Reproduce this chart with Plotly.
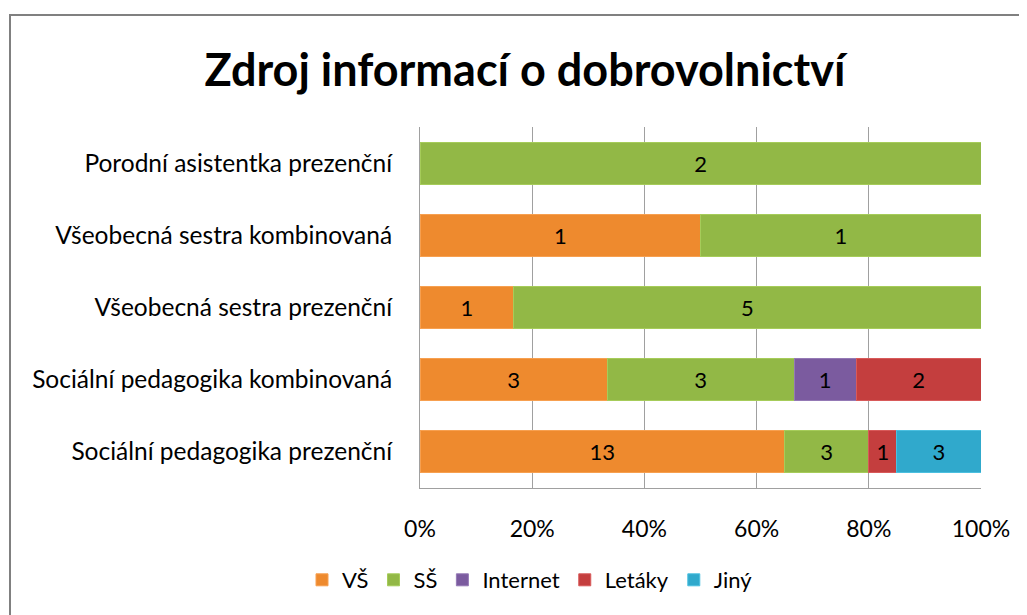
import plotly.graph_objects as go

categories = [
    "Sociální pedagogika prezenční",
    "Sociální pedagogika kombinovaná",
    "Všeobecná sestra prezenční",
    "Všeobecná sestra kombinovaná",
    "Porodní asistentka prezenční",
]
vs = [13, 3, 1, 1, 0]
ss = [3, 3, 5, 1, 2]
internet = [0, 1, 0, 0, 0]
letaky = [1, 2, 0, 0, 0]
jiny = [3, 0, 0, 0, 0]
tick_vals = [0, 20, 40, 60, 80, 100]
tick_text = ["0%", "20%", "40%", "60%", "80%", "100%"]

series = [
    ("VŠ", vs, "#EE8A2E", "#F7A050"),
    ("SŠ", ss, "#92B846", "#A6CC5A"),
    ("Internet", internet, "#7B5B9F", "#9479B5"),
    ("Letáky", letaky, "#C43E3E", "#D85A5A"),
    ("Jiný", jiny, "#30A9CC", "#4CC0E0"),
]

FONT = "Lato"
# page body has an 8px margin; figure coordinates are shifted accordingly
W, H = 1019, 607
L, T = 412, 119
PW, PH = 561, 361

fig = go.Figure()
for name, vals, col, lcol in series:
    fig.add_trace(go.Bar(
        y=categories, x=vals, name=name, orientation="h",
        marker=dict(color=col, line=dict(color=lcol, width=1)),
        text=[str(v) if v else "" for v in vals],
        textposition="inside", insidetextanchor="middle",
        textfont=dict(family=FONT, size=22, color="#000000"),
        constraintext="none",
    ))

fig.update_layout(
    width=W, height=H,
    barmode="stack", barnorm="percent", bargap=0.42,
    paper_bgcolor="white", plot_bgcolor="white",
    margin=dict(l=L, r=W - L - PW, t=T, b=H - T - PH, autoexpand=False),
    font=dict(family=FONT, size=22, color="#000000"),
    title=dict(text="<b>Zdroj informací o dobrovolnictví</b>",
               font=dict(family=FONT, size=45, color="#000000"),
               xref="container", yref="container",
               x=517 / W, y=1 - 62 / H, xanchor="center", yanchor="middle"),
    xaxis=dict(range=[0, 100], tickmode="array", tickvals=tick_vals, ticktext=tick_text,
               showgrid=True, gridcolor="#A0A0A0", gridwidth=1,
               showline=True, linecolor="#A0A0A0", linewidth=1,
               ticks="outside", ticklen=20, tickcolor="rgba(0,0,0,0)",
               tickfont=dict(family=FONT, size=23), zeroline=False, fixedrange=True),
    yaxis=dict(showline=True, linecolor="#A0A0A0", linewidth=1,
               ticks="outside", ticklen=22, tickcolor="rgba(0,0,0,0)",
               tickfont=dict(family=FONT, size=24.5), showgrid=False, fixedrange=True),
    legend=dict(orientation="h", x=(522 - L) / PW, y=-(572 - T - PH) / PH,
                xanchor="center", yanchor="middle",
                font=dict(family=FONT, size=22), traceorder="normal",
                itemwidth=30, bgcolor="rgba(0,0,0,0)"),
    shapes=[dict(type="rect", xref="paper", yref="paper",
                 x0=(2 - L) / PW, x1=1 + 200 / PW,
                 y0=-300 / PH, y1=1 + (T - 7) / PH,
                 line=dict(color="#808080", width=2), fillcolor="rgba(0,0,0,0)",
                 layer="below")],
)

fig.write_html("out.html")
